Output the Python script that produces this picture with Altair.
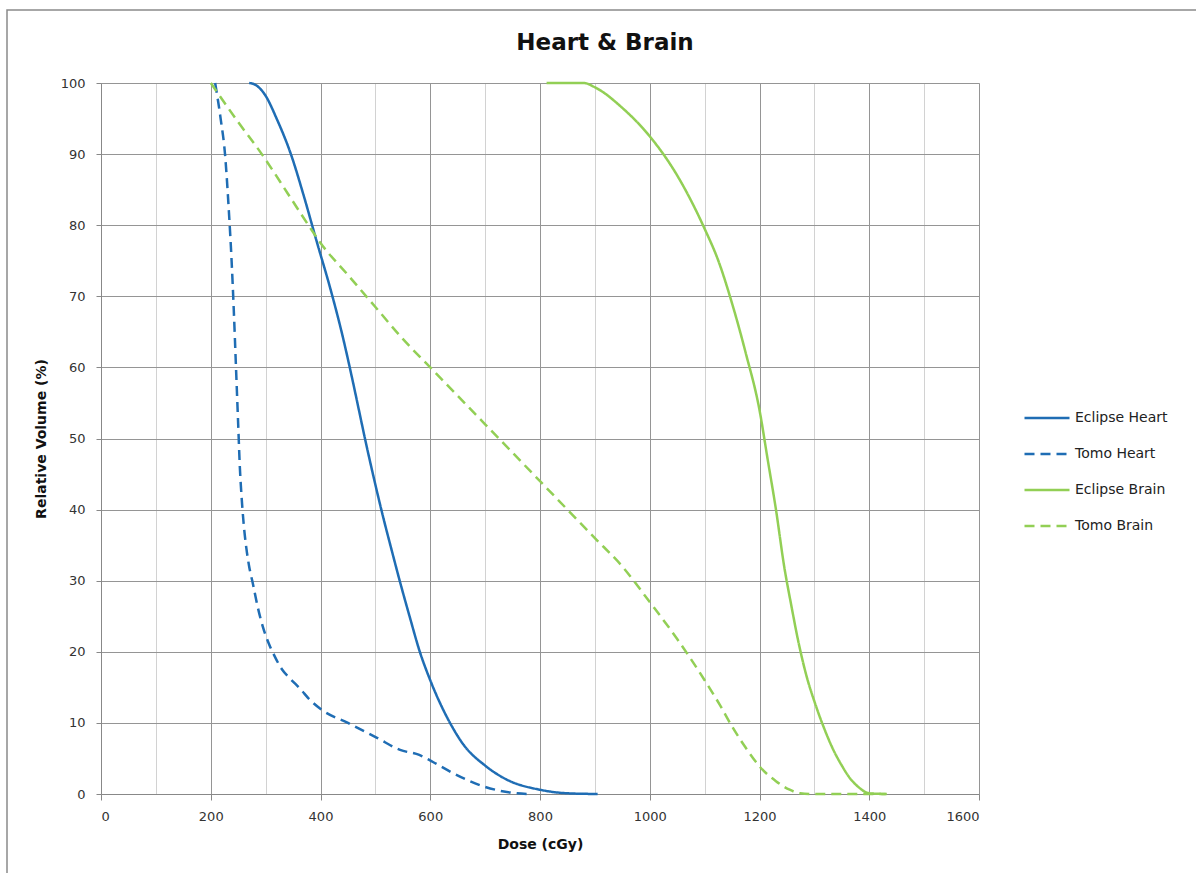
import altair as alt
import pandas as pd

series_names = ["Eclipse Heart", "Tomo Heart", "Eclipse Brain", "Tomo Brain"]

eh_dose = [270, 280, 300, 320, 346, 370, 392, 420, 440, 457, 470, 481, 497, 514, 530, 545, 563, 581, 600, 636, 660, 700, 740, 800, 850, 905]
eh_vol = [100, 99.8, 98.2, 95, 90, 84, 78, 70.5, 64.5, 58.7, 54, 50, 44.5, 39, 34.2, 29.8, 24.8, 20, 16, 10, 7, 4, 2, 0.6, 0.1, 0]

th_dose = [208, 218, 226, 233, 238, 242, 246, 250, 253, 256, 260, 265, 270, 277, 285, 295, 305, 315, 330, 345, 363, 380, 403, 450, 503, 545, 580, 605, 640, 700, 758, 780]
th_vol = [100, 95, 90, 82, 75, 68, 60, 52, 46, 42, 38, 34.5, 32, 29.5, 26.5, 23.5, 21.3, 19.6, 17.5, 16.2, 14.8, 13.3, 11.8, 10, 7.9, 6.2, 5.5, 4.5, 3, 1, 0.1, 0]

eb_dose = [812, 880, 900, 950, 1000, 1050, 1100, 1125, 1150, 1175, 1200, 1215, 1230, 1245, 1258, 1272, 1286, 1301, 1318, 1334, 1350, 1365, 1380, 1400, 1432]
eb_vol = [100, 100, 99.4, 96.5, 92.5, 87, 79.5, 75, 69, 62, 54, 47, 40, 32, 26.5, 21, 16.5, 12.8, 9.2, 6.3, 4, 2.2, 1, 0.1, 0]

tb_dose = [200, 250, 293, 340, 378, 400, 450, 500, 550, 600, 650, 700, 750, 800, 850, 900, 950, 1000, 1050, 1100, 1128, 1150, 1175, 1201, 1230, 1255, 1274, 1300, 1430]
tb_vol = [100, 94.5, 90, 84.5, 80, 77.5, 73, 68.5, 64, 60, 56, 52, 48, 44, 40, 36, 32, 27, 21.8, 16, 12.5, 9.5, 6.5, 3.8, 1.8, 0.6, 0.1, 0, 0]

x_ticks = list(range(0, 1601, 100))
y_ticks = list(range(0, 101, 10))

rows = []
for name, d, v in [("Eclipse Heart", eh_dose, eh_vol), ("Tomo Heart", th_dose, th_vol),
                   ("Eclipse Brain", eb_dose, eb_vol), ("Tomo Brain", tb_dose, tb_vol)]:
    for a, b in zip(d, v):
        rows.append({"series": name, "dose": a, "vol": b})
df = pd.DataFrame(rows)

FONT = "DejaVu Sans"
blue = "#1f6db4"
green = "#92cf55"

legend = alt.Legend(title=None, orient="none", legendX=922, legendY=311,
                    symbolType="stroke", symbolSize=2025, symbolStrokeWidth=2.5,
                    labelFontSize=14, labelFont=FONT, labelColor="#222",
                    rowPadding=5, labelOffset=4)

lines = alt.Chart(df).mark_line(strokeWidth=2.5, interpolate="monotone").encode(
    x=alt.X("dose:Q", scale=alt.Scale(domain=[0, 1600], nice=False),
            axis=alt.Axis(values=x_ticks, title="Dose (cGy)", format="d",
                          labelExpr="datum.value % 200 == 0 ? datum.label : ''",
                          gridColor=alt.condition("datum.value % 200 == 0", alt.value("#959595"), alt.value("#d2d2d2")),
                          tickOpacity=alt.condition("datum.value % 200 == 0", alt.value(1), alt.value(0)),
                          tickSize=6, tickColor="#888", domainColor="#888",
                          labelFont=FONT, labelFontSize=13, labelColor="#333", labelPadding=10,
                          titleFont=FONT, titleFontSize=14, titleFontWeight="bold", titleColor="#111",
                          titlePadding=14)),
    y=alt.Y("vol:Q", scale=alt.Scale(domain=[0, 100], nice=False),
            axis=alt.Axis(values=y_ticks, title="Relative Volume (%)", format="d",
                          gridColor="#959595", tickSize=5, tickColor="#888", domainColor="#888",
                          labelFont=FONT, labelFontSize=13, labelColor="#333", labelPadding=11,
                          titleFont=FONT, titleFontSize=14, titleFontWeight="bold", titleColor="#111",
                          titlePadding=12)),
    color=alt.Color("series:N", scale=alt.Scale(domain=series_names, range=[blue, blue, green, green]),
                    legend=legend),
    strokeDash=alt.StrokeDash("series:N", scale=alt.Scale(domain=series_names,
                                                          range=[[1, 0], [10, 6], [1, 0], [10, 6]]),
                              legend=legend),
    detail="series:N",
)

border = alt.Chart(alt.Data(values=[{}])).mark_rect(fill=None, stroke="#8a8a8a", strokeWidth=1.5).encode(
    x=alt.value(-94), x2=alt.value(1110), y=alt.value(-73), y2=alt.value(800)
)

chart = alt.layer(border, lines).properties(
    width=878, height=711,
    title=alt.TitleParams("Heart & Brain", font=FONT, fontSize=23, fontWeight="bold", color="#111",
                          anchor="middle", dx=65, dy=46, offset=0),
    autosize=alt.AutoSizeParams(type="none"),
    padding={"left": 101, "top": 83, "right": 217, "bottom": 79},
).configure_view(stroke=None).configure(background="white")

chart.save("out.html", embed_options={"renderer": "svg", "actions": False})
